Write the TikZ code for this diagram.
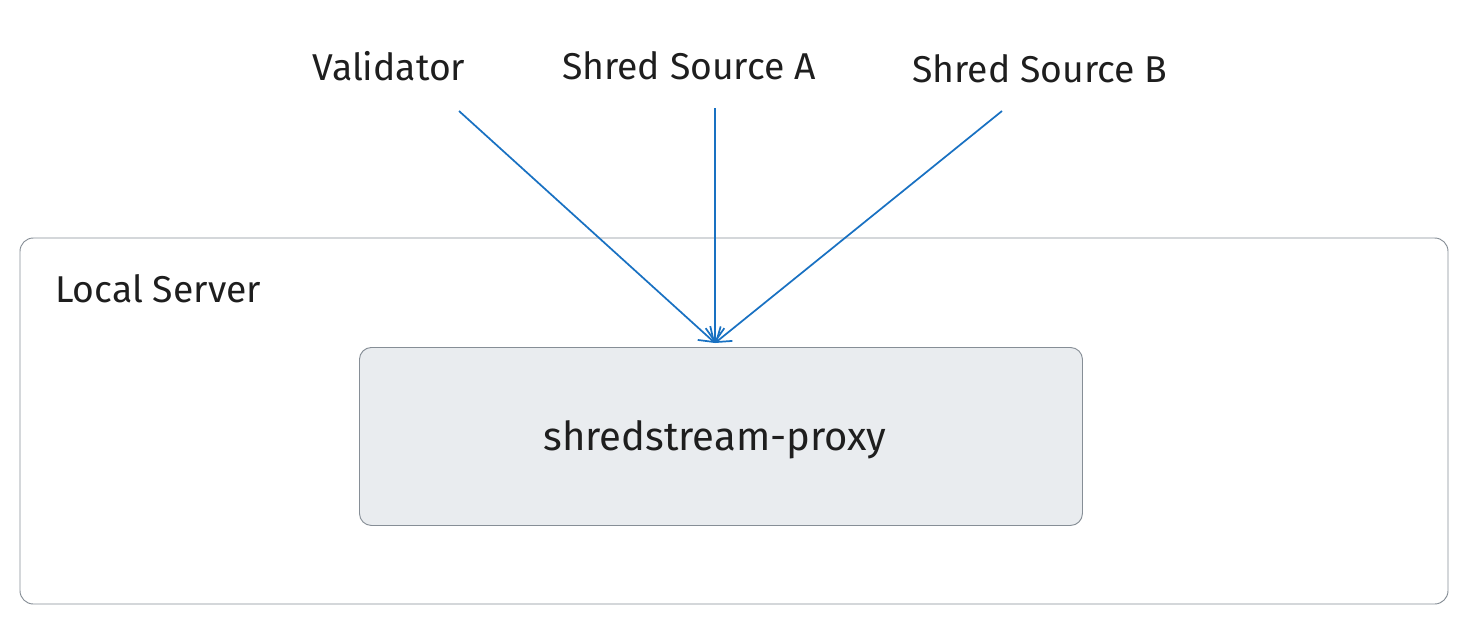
\documentclass[tikz,border=0pt]{standalone}
\usepackage{fontspec}
\setmainfont{Fira Sans}
\usetikzlibrary{arrows.meta}
\definecolor{arrowblue}{HTML}{1971C2}
\definecolor{boxgray}{HTML}{868E96}
\definecolor{fillgray}{HTML}{E9ECEF}
\definecolor{txt}{HTML}{1E1E1E}
\tikzset{
  label text/.style={text=txt, inner sep=0pt, font=\fontsize{28}{32}\selectfont},
  container/.style={draw=boxgray, line width=0.7pt, rounded corners=10pt},
  procbox/.style={draw=boxgray, fill=fillgray, line width=0.7pt, rounded corners=9pt},
  flow/.style={draw=arrowblue, line width=1.3pt, -{Straight Barb[length=10pt,width=14pt]}}
}
\begin{document}
\begin{tikzpicture}[x=0.75pt,y=-0.75pt]
\useasboundingbox (0,0) rectangle (1468,640);
\draw[container] (20,238) rectangle (1448,604);
\node[procbox, minimum width=723*0.75pt, minimum height=178*0.75pt, anchor=north west] (proxy) at (359,347) {};
\node[label text, font=\fontsize{30}{34}\selectfont] (proxyt) at (715,440) {shredstream-proxy};
\node[label text, anchor=west] (local) at (55,289) {Local Server};
\node[label text] (val) at (389,66) {Validator};
\node[label text] (srca) at (689,66) {Shred Source A};
\node[label text] (srcb) at (1040,69) {Shred Source B};
\coordinate (v1) at (459,111);
\coordinate (a1) at (715,108);
\coordinate (b1) at (1002,111);
\coordinate (t1) at (715,343);
\draw[flow] (v1) -- (t1);
\draw[flow] (a1) -- (t1);
\draw[flow] (b1) -- (t1);
\end{tikzpicture}
\end{document}
